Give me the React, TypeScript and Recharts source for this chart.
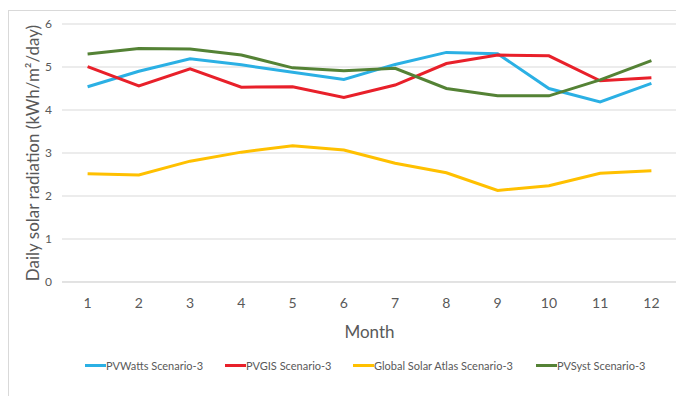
import { LineChart, Line, XAxis, YAxis, CartesianGrid, Label } from "recharts";

const months = ["1", "2", "3", "4", "5", "6", "7", "8", "9", "10", "11", "12"];
const pvWatts = [4.54, 4.9, 5.19, 5.05, 4.88, 4.71, 5.06, 5.34, 5.31, 4.5, 4.19, 4.62];
const pvgis = [5.01, 4.56, 4.96, 4.53, 4.54, 4.29, 4.58, 5.08, 5.28, 5.26, 4.68, 4.75];
const globalSolarAtlas = [2.52, 2.49, 2.81, 3.02, 3.17, 3.07, 2.76, 2.54, 2.13, 2.24, 2.53, 2.59];
const pvSyst = [5.3, 5.43, 5.42, 5.28, 4.98, 4.91, 4.97, 4.5, 4.33, 4.33, 4.7, 5.15];
const yTicks = [0, 1, 2, 3, 4, 5, 6];

const series = [
  { key: "pvWatts", name: "PVWatts Scenario-3", color: "#2BB0E4", legendX: 76 },
  { key: "pvgis", name: "PVGIS Scenario-3", color: "#E8202A", legendX: 216 },
  { key: "gsa", name: "Global Solar Atlas Scenario-3", color: "#FFC000", legendX: 344 },
  { key: "pvSyst", name: "PVSyst Scenario-3", color: "#548235", legendX: 527 },
];

const data = months.map((m, i) => ({
  month: m,
  pvWatts: pvWatts[i],
  pvgis: pvgis[i],
  gsa: globalSolarAtlas[i],
  pvSyst: pvSyst[i],
}));

const textColor = "#595959";
const font = "Lato, 'Open Sans', sans-serif";

export default function App() {
  return (
    <div
      style={{
        position: "relative",
        width: 690,
        height: 400,
        marginTop: 2,
        border: "1px solid #d9d9d9",
        boxSizing: "border-box",
        fontFamily: font,
        background: "#fff",
      }}
    >
      <LineChart
        width={675}
        height={385}
        data={data}
        margin={{ top: 13, right: 7, left: 0, bottom: 54 }}
      >
        <CartesianGrid vertical={false} stroke="#d9d9d9" />
        <XAxis
          dataKey="month"
          axisLine={{ stroke: "#d9d9d9" }}
          tickLine={false}
          tickSize={0}
          tickMargin={16}
          height={60}
          padding={{ left: 25.6, right: 25.6 }}
          interval={0}
          tick={{ fill: textColor, fontSize: 14, fontFamily: font }}
        >
          <Label
            value="Month"
            position="insideBottom"
            offset={4}
            style={{ fill: textColor, fontSize: 17, fontFamily: font }}
          />
        </XAxis>
        <YAxis
          domain={[0, 6]}
          ticks={yTicks}
          width={53}
          axisLine={false}
          tickLine={false}
          tickSize={0}
          tickMargin={10}
          tick={{ fill: textColor, fontSize: 12, fontFamily: font }}
        >
          <Label
            content={() => (
              <text
                x={30}
                y={142}
                transform="rotate(-90 30 142)"
                textAnchor="middle"
                fill={textColor}
                fontSize={17}
                fontFamily={font}
              >
                Daily solar radiation (kWh/m²/day)
              </text>
            )}
          />
        </YAxis>
        {series.map((s) => (
          <Line
            key={s.key}
            dataKey={s.key}
            name={s.name}
            stroke={s.color}
            strokeWidth={3}
            dot={false}
            activeDot={false}
            isAnimationActive={false}
          />
        ))}
      </LineChart>
      {series.map((s) => (
        <div
          key={s.key}
          style={{
            position: "absolute",
            left: s.legendX,
            top: 348,
            display: "flex",
            alignItems: "center",
            fontSize: 11,
            color: textColor,
            whiteSpace: "nowrap",
          }}
        >
          <span style={{ display: "inline-block", width: 21, height: 3, background: s.color }} />
          <span>{s.name}</span>
        </div>
      ))}
    </div>
  );
}
